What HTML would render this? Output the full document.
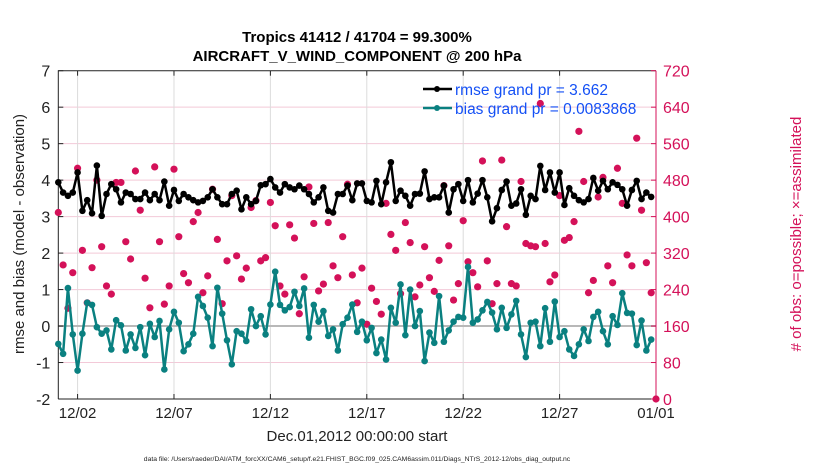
<!DOCTYPE html>
<html><head><meta charset="utf-8"><style>
body{margin:0;background:#fff;font-family:"Liberation Sans",sans-serif}
svg text{font-family:"Liberation Sans",sans-serif}
</style></head><body>
<svg id="chart" width="830" height="470" viewBox="0 0 830 470">
<g id="grid"></g>
<g id="axes"></g>
<g id="series"></g>
<text x="357" y="42" text-anchor="middle" font-size="15" font-weight="bold">Tropics 41412 / 41704 = 99.300%</text>
<text x="357" y="61" text-anchor="middle" font-size="15" font-weight="bold">AIRCRAFT_V_WIND_COMPONENT @ 200 hPa</text>
<text x="357" y="441" text-anchor="middle" font-size="15" fill="#222">Dec.01,2012 00:00:00 start</text>
<text x="357" y="461" text-anchor="middle" font-size="6.8" fill="#222">data file: /Users/raeder/DAI/ATM_forcXX/CAM6_setup/f.e21.FHIST_BGC.f09_025.CAM6assim.011/Diags_NTrS_2012-12/obs_diag_output.nc</text>
<text transform="translate(24,234) rotate(-90)" text-anchor="middle" font-size="15" fill="#222">rmse and bias (model - observation)</text>
<text transform="translate(801,234) rotate(-90)" text-anchor="middle" font-size="15" fill="#d41159"># of obs: o=possible; ×=assimilated</text>
<g>
<line x1="423" y1="89" x2="452" y2="89" stroke="#000" stroke-width="2.5"/>
<circle cx="437" cy="89" r="3" fill="#000"/>
<text x="455" y="95" font-size="15.5" fill="#1450f5">rmse grand pr = 3.662</text>
<line x1="423" y1="108" x2="452" y2="108" stroke="#0a8080" stroke-width="2.5"/>
<circle cx="437" cy="108" r="3" fill="#0a8080"/>
<text x="455" y="114" font-size="15.5" fill="#1450f5">bias grand pr = 0.0083868</text>
</g>
</svg>
<script>
const rmse=[3.94,3.66,3.57,3.66,4.21,3.16,3.45,3.09,4.4,3.02,3.62,3.89,3.75,3.39,3.66,3.62,3.48,3.48,3.66,3.45,3.62,3.45,3.96,3.3,3.73,3.43,3.62,3.53,3.45,3.39,3.43,3.53,3.75,
3.53,3.34,3.34,3.62,3.71,3.2,3.53,3.34,3.43,3.86,3.89,4.03,3.8,3.66,3.89,3.8,3.75,3.85,3.75,3.62,3.39,3.53,3.8,3.16,3.11,3.62,3.62,3.85,3.45,3.91,3.91,3.43,
3.39,3.98,3.34,3.94,4.49,3.43,3.71,3.57,3.3,3.62,3.63,4.24,3.48,3.53,3.53,3.85,3.11,3.75,3.89,3.43,4,3.39,3.63,4,3.53,2.87,3.23,3.73,3.96,3.3,3.36,3.75,
3.05,3.57,3.48,4.39,3.73,4.21,3.66,4.21,3.32,3.78,3.57,3.45,3.39,3.48,4.06,3.71,3.98,3.75,3.94,3.87,3.75,3.3,3.73,3.98,3.48,3.66,3.54];
const bias=[-0.49,-0.76,1.04,-0.23,-1.22,-0.21,0.64,0.58,-0.03,-0.21,-0.12,-0.64,0.16,0.02,-0.67,-0.23,-0.6,-0.03,-0.8,0.06,-0.3,0.14,-1.19,-0.09,0.39,0.09,-0.69,-0.5,-0.21,0.8,0.55,0.23,-0.55,
1.05,0.34,-0.39,-1.05,-0.14,-0.21,-0.41,0.46,0,0.27,-0.23,0.59,1.49,0.58,0.43,0.52,0.94,0.55,1.03,-0.32,0.58,0.12,0.41,-0.27,-0.09,-0.67,0.05,0.23,0.59,-0.16,0.12,-0.39,
-0.05,-0.74,-0.37,-0.92,0.5,0.09,1.14,-0.25,1.0,0,0.41,-0.96,-0.18,-0.46,0.82,-0.43,-0.12,0.12,0.25,0.23,1.62,0.09,0.18,0.43,0.66,0.37,-0.09,0.5,-0.05,0.32,0.69,-0.23,
-0.85,0.09,0.12,-0.55,0.49,-0.43,0.67,-0.3,-0.14,-0.64,-0.82,-0.5,-0.09,-0.41,0.25,0.39,-0.14,-0.5,0.27,0.03,0.9,0.36,0.34,-0.52,0.15,-0.67,-0.37];
const nobs=[409,294,199,277,506,326,211,288,480,334,248,230,475,475,345,307,500,414,265,200,509,345,208,248,504,356,275,255,389,409,233,270,460,
350,209,303,446,314,263,287,420,435,303,310,431,380,248,230,382,353,187,268,465,385,237,252,387,292,266,356,471,272,211,287,164,
243,214,186,429,361,326,231,387,343,224,250,334,266,236,304,468,336,217,253,391,301,277,246,522,303,209,253,524,378,253,248,477,
341,336,334,648,341,257,272,446,348,354,389,587,477,233,260,443,486,292,255,506,429,316,292,572,414,299,233,0];
const xTickLabels=["12/02","12/07","12/12","12/17","12/22","12/27","01/01"];
const xTickDays=[1,6,11,16,21,26,31];
const yTicks=[-2,-1,0,1,2,3,4,5,6,7];
const y2Ticks=[0,80,160,240,320,400,480,560,640,720];
const stepDays=0.25;

const X0=58.3,X1=656,Y0=70.7,Y1=399;
const xs=d=>X0+(d/31)*(X1-X0);
const ys=v=>Y0+(7-v)/9*(Y1-Y0);
const ys2=n=>Y1-(n/720)*(Y1-Y0);
const NS="http://www.w3.org/2000/svg";
function mk(tag,attrs,parent){const e=document.createElementNS(NS,tag);for(const k in attrs)e.setAttribute(k,attrs[k]);parent.appendChild(e);return e;}
const grid=document.getElementById('grid'),axes=document.getElementById('axes'),ser=document.getElementById('series');

yTicks.forEach(v=>{
  if(v>-2&&v<7){const l=mk('line',{x1:X0,x2:X1,y1:ys(v),y2:ys(v),stroke:'#f3c9d8','stroke-width':1},grid);
  
  }
  const t=mk('line',{x1:X0,x2:X0+5,y1:ys(v),y2:ys(v),stroke:'#222'},axes);
  
  
  const tx=mk('text',{x:X0-8,y:ys(v)+6,'text-anchor':'end','font-size':16,fill:'#222'},axes);tx.textContent=v;
  
  
});
xTickDays.forEach((d,i)=>{
  if(d<31){const g=mk('line',{x1:xs(d),x2:xs(d),y1:Y0,y2:Y1,stroke:'#dcdcdc','stroke-width':1},grid);
  
  
  const t=mk('line',{x1:xs(d),x2:xs(d),y1:Y1,y2:Y1-5,stroke:'#222'},axes);
  
  
  const t2=mk('line',{x1:xs(d),x2:xs(d),y1:Y0,y2:Y0+5,stroke:'#222'},axes);
  
  }
  const tx=mk('text',{x:xs(d),y:Y1+19,'text-anchor':'middle','font-size':15,fill:'#222'},axes);tx.textContent=xTickLabels[i];
  
  
});
const zl=mk('line',{x1:X0,x2:X1,y1:ys(0),y2:ys(0),stroke:'#b8b8b8','stroke-width':2},grid);


const la=mk('path',{d:`M${X0},${Y1}V${Y0}H${X1}M${X0},${Y1}H${X1}`,fill:'none',stroke:'#222','stroke-width':1},axes);


const ra=mk('line',{x1:X1,x2:X1,y1:Y0,y2:Y1,stroke:'#d41159','stroke-width':1},axes);


y2Ticks.forEach(n=>{
  const t=mk('line',{x1:X1,x2:X1-5,y1:ys2(n),y2:ys2(n),stroke:'#d41159'},axes);
  
  
  const tx=mk('text',{x:X1+7,y:ys2(n)+6,'font-size':16,fill:'#d41159'},axes);tx.textContent=n;
  
  
});

nobs.forEach((n,i)=>{
  const c=mk('circle',{cx:xs(i*stepDays),cy:ys2(n),r:3.6,fill:'#d41159'},ser);
  
  
});
function line(vals,color,name){
  const d=vals.map((v,i)=>(i?'L':'M')+xs(i*stepDays).toFixed(1)+','+ys(v).toFixed(1)).join('');
  const p=mk('path',{d:d,fill:'none',stroke:color,'stroke-width':2.5,'stroke-linejoin':'round'},ser);
  
  
  vals.forEach((v,i)=>{
    const c=mk('circle',{cx:xs(i*stepDays),cy:ys(v),r:3.3,fill:color},ser);
    
    
  });
}
line(rmse,'#000','rmse');
line(bias,'#0a8080','bias');
</script>
</body></html>
